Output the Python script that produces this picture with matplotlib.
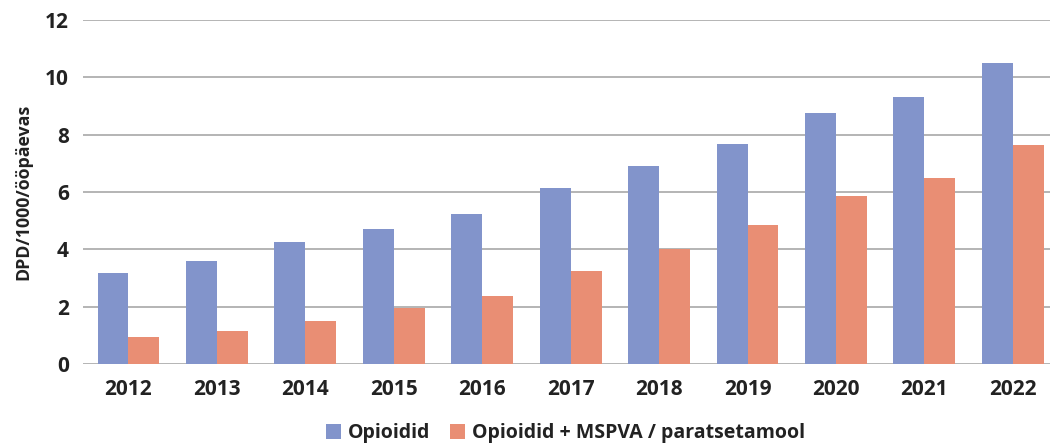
import matplotlib.pyplot as plt
import numpy as np

plt.rcParams['font.family'] = ['Open Sans', 'DejaVu Sans']
plt.rcParams['font.weight'] = 'bold'

years = ["2012", "2013", "2014", "2015", "2016", "2017", "2018", "2019", "2020", "2021", "2022"]
opioidid = [3.18, 3.60, 4.26, 4.72, 5.24, 6.15, 6.91, 7.68, 8.76, 9.32, 10.50]
opioidid_kombo = [0.95, 1.16, 1.51, 1.97, 2.38, 3.25, 4.02, 4.86, 5.87, 6.49, 7.64]

BLUE = "#8294CB"
ORANGE = "#E98E74"
TXT = "#222222"

fig = plt.figure(figsize=(10.5, 4.43), dpi=100)
ax = fig.add_axes([83 / 1050, 1 - 364 / 443, 1 - 83 / 1050, 344 / 443])

x = np.arange(len(years))
w = 0.35
ax.bar(x - w / 2, opioidid, w, color=BLUE, label="Opioidid", zorder=3)
ax.bar(x + w / 2, opioidid_kombo, w, color=ORANGE, label="Opioidid + MSPVA / paratsetamool", zorder=3)

ax.set_ylim(0, 12)
ax.set_yticks(range(0, 13, 2))
ax.set_xlim(-0.514, 10.42)
ax.set_xticks(x)
ax.set_xticklabels(years)
ax.grid(axis="y", color="#A8A8A8", linewidth=1.2, zorder=0)
for s in ax.spines.values():
    s.set_visible(False)
ax.tick_params(length=0, labelsize=15, colors=TXT)
ax.tick_params(axis="x", pad=11)
ax.tick_params(axis="y", pad=10)
ax.set_ylabel("DPD/1000/ööpäevas", fontsize=12.8, color=TXT, fontweight="bold", labelpad=9)

ax.legend(loc="center", bbox_to_anchor=(0.499, -0.202), ncol=2, frameon=False,
          fontsize=14, handlelength=0.77, handleheight=0.77, handletextpad=0.36, columnspacing=1.0,
          labelcolor=TXT)

fig.savefig("out.png", dpi=100)
